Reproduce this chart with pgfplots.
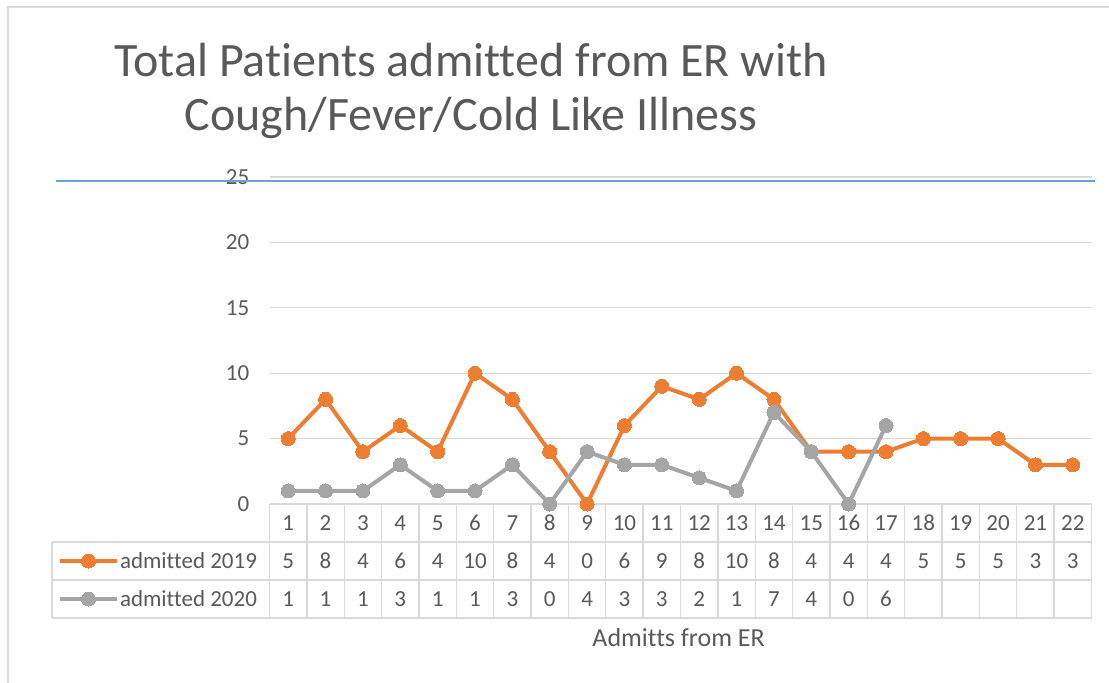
\documentclass[border=0pt]{standalone}
\usepackage{pgfplots}
\pgfplotsset{compat=1.18}
\usepackage{pgfplotstable}
\usepackage{fontspec}
\setmainfont[Ligatures=NoCommon]{Carlito}
\definecolor{c19}{RGB}{237,125,49}
\definecolor{c20}{RGB}{165,165,165}
\definecolor{gridc}{RGB}{217,217,217}
\definecolor{txt}{RGB}{89,89,89}
\definecolor{blueln}{RGB}{110,160,210}

\pgfplotstableread{
x a
1 5
2 8
3 4
4 6
5 4
6 10
7 8
8 4
9 0
10 6
11 9
12 8
13 10
14 8
15 4
16 4
17 4
18 5
19 5
20 5
21 3
22 3
}\dataA

\pgfplotstableread{
x b
1 1
2 1
3 1
4 3
5 1
6 1
7 3
8 0
9 4
10 3
11 3
12 2
13 1
14 7
15 4
16 0
17 6
}\dataB

\begin{document}
\begin{tikzpicture}
\path[use as bounding box] (0,0) rectangle (1109pt,-683pt);
\draw[gridc, line width=2pt] (8pt,-683pt) -- (8pt,-7pt) -- (1109pt,-7pt);
\node[txt, font=\fontsize{48}{54}\selectfont, anchor=base] at (471pt,-76pt) {Total Patients admitted from ER with};
\node[txt, font=\fontsize{48}{54}\selectfont, anchor=base] at (471pt,-130pt) {Cough/Fever/Cold Like Illness};
\begin{axis}[
  at={(269.5pt,-504pt)}, anchor=south west,
  scale only axis, width=822pt, height=327pt,
  xmin=0.5, xmax=22.5, ymin=0, ymax=25,
  ytick={0,5,10,15,20,25}, xtick=\empty,
  axis line style={draw=none}, major tick length=0pt,
  ymajorgrids, grid style={gridc, line width=1.3pt},
  /pgf/number format/assume math mode=true,
  yticklabel style={txt, font=\fontsize{23}{23}\selectfont, anchor=east, inner sep=0pt, xshift=-20pt},
  clip=false,
  legend cell align=left,
  legend image code/.code={\draw[mark repeat=2,mark phase=2,#1] plot coordinates {(0pt,0pt) (28.5pt,0pt) (57pt,0pt)};},
  legend style={at={(-0.2573,-0.1162)}, anchor=north west, draw=none, fill=none,
    inner sep=0pt, outer sep=0pt, row sep=0pt, column sep=1pt,
    font=\fontsize{23}{23}\selectfont,
    nodes={txt, inner sep=0pt, text height=26pt, text depth=12pt}},
]
% table grid
\pgfplotsinvokeforeach{0,...,22}{
  \draw[gridc, line width=1.3pt] (axis cs:#1.5,0) -- ([yshift=-114pt]axis cs:#1.5,0);
}
\draw[gridc, line width=1.3pt] ([xshift=-217.5pt,yshift=-38pt]axis cs:0.5,0) -- ([yshift=-38pt]axis cs:22.5,0);
\draw[gridc, line width=1.3pt] ([xshift=-217.5pt,yshift=-76pt]axis cs:0.5,0) -- ([yshift=-76pt]axis cs:22.5,0);
\draw[gridc, line width=1.3pt] ([xshift=-217.5pt,yshift=-114pt]axis cs:0.5,0) -- ([yshift=-114pt]axis cs:22.5,0);
\draw[gridc, line width=1.3pt] ([xshift=-217.5pt,yshift=-38pt]axis cs:0.5,0) -- ([xshift=-217.5pt,yshift=-114pt]axis cs:0.5,0);

% lines
\addplot[c19, line width=4pt, mark=*, mark size=7pt, mark options={solid, fill=c19, draw=c19, line width=0pt}] table[x=x, y=a] \dataA;
\addlegendentry{admitted 2019}
\addplot[c20, line width=4pt, mark=*, mark size=7pt, mark options={solid, fill=c20, draw=c20, line width=0pt}] table[x=x, y=b] \dataB;
\addlegendentry{admitted 2020}

% data table text
\addplot[forget plot, draw=none, mark=none, point meta=explicit, nodes near coords,
  nodes near coords style={txt, font=\fontsize{23}{23}\selectfont, anchor=center, yshift=-19pt}]
  table[x=x, y expr=0, meta=x] \dataA;
\addplot[forget plot, draw=none, mark=none, point meta=explicit, nodes near coords,
  nodes near coords style={txt, font=\fontsize{23}{23}\selectfont, anchor=center, yshift=-57pt}]
  table[x=x, y expr=0, meta=a] \dataA;
\addplot[forget plot, draw=none, mark=none, point meta=explicit, nodes near coords,
  nodes near coords style={txt, font=\fontsize{23}{23}\selectfont, anchor=center, yshift=-95pt}]
  table[x=x, y expr=0, meta=b] \dataB;

\node[txt, font=\fontsize{26}{26}\selectfont, anchor=base] at ([yshift=-142.7pt]axis cs:11.45,0) {Admitts from ER};
\end{axis}
\draw[blueln, line width=2pt] (56pt,-181pt) -- (1095pt,-181pt);
\end{tikzpicture}
\end{document}
